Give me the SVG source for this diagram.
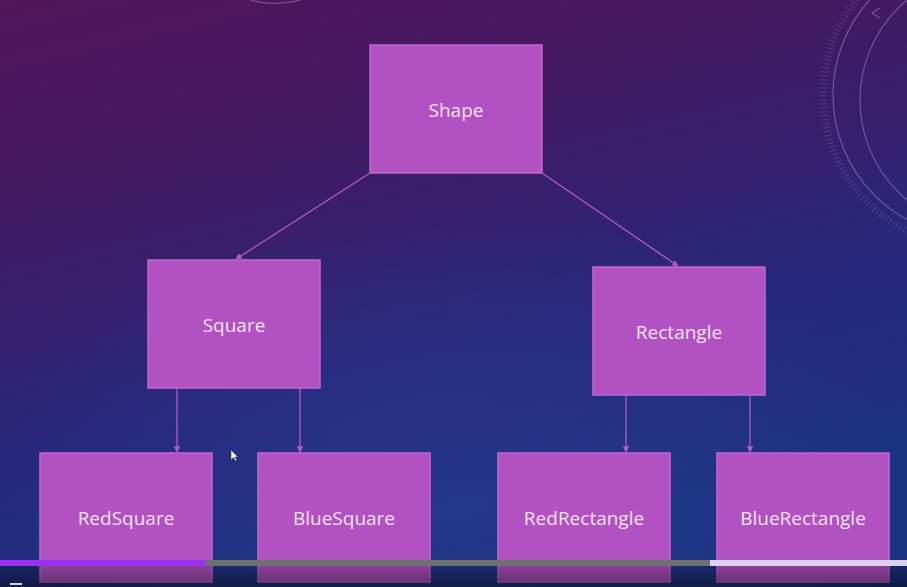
<svg xmlns="http://www.w3.org/2000/svg" width="907" height="587" viewBox="0 0 907 587">
<defs>
<linearGradient id="bg" x1="0" y1="0" x2="0.35" y2="1">
<stop offset="0" stop-color="#52145a"/>
<stop offset="0.35" stop-color="#401a64"/>
<stop offset="0.7" stop-color="#27287c"/>
<stop offset="1" stop-color="#1b3282"/>
</linearGradient>
<radialGradient id="glow" cx="0.5" cy="0.85" r="0.5">
<stop offset="0" stop-color="#2a3e95" stop-opacity="0.5"/>
<stop offset="1" stop-color="#2a3e95" stop-opacity="0"/>
</radialGradient>
<linearGradient id="shade" x1="0" y1="0" x2="0" y2="1">
<stop offset="0" stop-color="#000" stop-opacity="0.15"/>
<stop offset="1" stop-color="#000" stop-opacity="0.45"/>
</linearGradient>
<marker id="arr" viewBox="0 0 10 10" refX="9" refY="5" markerWidth="5" markerHeight="5" orient="auto">
<path d="M0,0 L10,5 L0,10 z" fill="#b458c8"/>
</marker>
<style>
.box{fill:#b151c2;stroke:#c068d0;stroke-width:1.5}
.lbl{font-family:"Open Sans","Liberation Sans",sans-serif;font-size:19px;fill:#f3e4f5;text-anchor:middle;dominant-baseline:central}
.edge{stroke:#b458c8;stroke-width:1.3;fill:none;marker-end:url(#arr)}
.deco{fill:none;stroke:#c8b0e8;stroke-opacity:0.4;stroke-width:1.2}
</style>
</defs>
<rect width="907" height="587" fill="url(#bg)"/>
<rect width="907" height="587" fill="url(#glow)"/>
<g id="decoration">
<circle cx="975" cy="95" r="142" class="deco"/>
<circle cx="990" cy="100" r="130" class="deco"/>
<circle cx="975" cy="95" r="152" fill="none" stroke="#c8b0e8" stroke-opacity="0.2" stroke-width="7" stroke-dasharray="1 3"/>
<path d="M250,0 A40,15 0 0 0 300,0" class="deco"/>
<path d="M880,8 L872,13 L880,18" class="deco" stroke-opacity="0.7" stroke-width="2"/>
</g>
<g id="connectors">
<line x1="370" y1="173" x2="236" y2="259" class="edge"/>
<line x1="542" y1="173" x2="678" y2="266" class="edge"/>
<line x1="177" y1="388" x2="177" y2="452" class="edge"/>
<line x1="300" y1="388" x2="300" y2="452" class="edge"/>
<line x1="626" y1="395" x2="626" y2="452" class="edge"/>
<line x1="750" y1="395" x2="750" y2="452" class="edge"/>
</g>
<g id="shape"><rect x="370" y="45" width="172" height="128" class="box"/><text x="456" y="110" class="lbl">Shape</text></g>
<g id="square"><rect x="148" y="260" width="172" height="128" class="box"/><text x="234" y="325" class="lbl">Square</text></g>
<g id="rectangle"><rect x="593" y="267" width="172" height="128" class="box"/><text x="679" y="332" class="lbl">Rectangle</text></g>
<g id="redsquare"><rect x="40" y="453" width="172" height="129" class="box"/><text x="126" y="518" class="lbl">RedSquare</text></g>
<g id="bluesquare"><rect x="258" y="453" width="172" height="129" class="box"/><text x="344" y="518" class="lbl">BlueSquare</text></g>
<g id="redrectangle"><rect x="498" y="453" width="172" height="129" class="box"/><text x="584" y="518" class="lbl">RedRectangle</text></g>
<g id="bluerectangle"><rect x="717" y="453" width="172" height="129" class="box"/><text x="803" y="518" class="lbl">BlueRectangle</text></g>
<g id="player">
<rect x="0" y="560" width="907" height="27" fill="url(#shade)"/>
<rect x="0" y="560" width="205" height="6" fill="#9b30f0"/>
<rect x="205" y="560" width="505" height="6" fill="#6c7070"/>
<rect x="710" y="560" width="197" height="6" fill="#ddd0ec"/>
<rect x="10" y="583" width="12" height="2" fill="#d0d8e8"/>
<path d="M231,450 L231,460 L233.5,457.5 L235.5,461 L237,460.3 L235,457 L238,457 Z" fill="#f4f4f4" stroke="#333" stroke-width="0.5"/>
</g>
</svg>
